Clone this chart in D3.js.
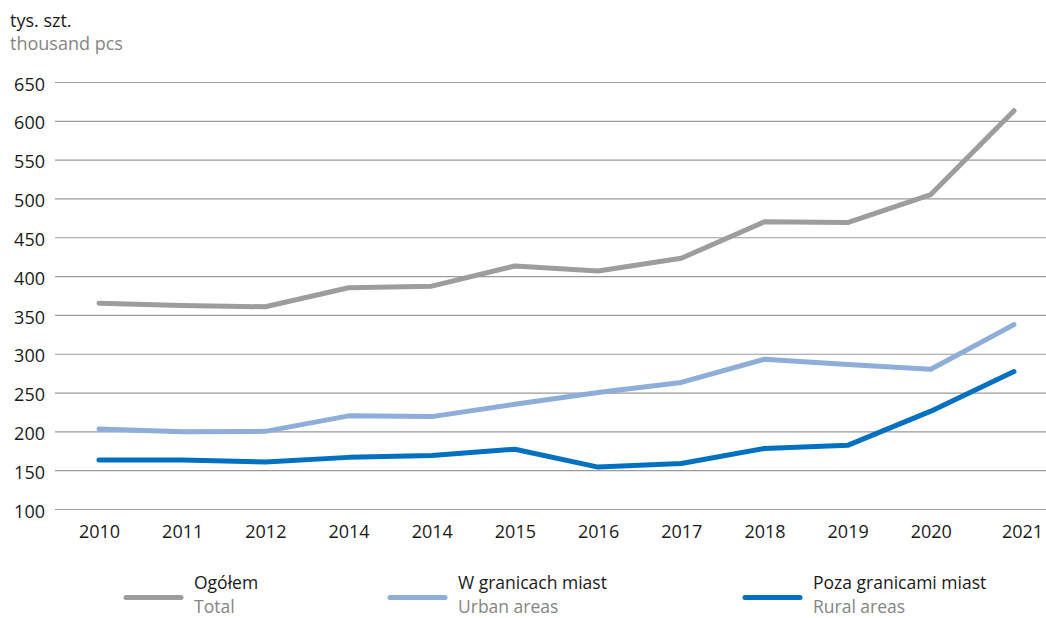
<!DOCTYPE html>
<html>
<head>
<meta charset="utf-8">
<script src="https://cdn.jsdelivr.net/npm/d3@7"></script>
<style>
  html, body { margin: 0; padding: 0; background: #fff; }
  svg { display: block; font-family: "Open Sans", sans-serif; }
</style>
</head>
<body>
<svg id="chart" width="1046" height="618"></svg>
<script>
const years = ["2010", "2011", "2012", "2014", "2014", "2015", "2016", "2017", "2018", "2019", "2020", "2021"];
const totalValues = [365, 362, 360.5, 385, 387, 413, 406.5, 423, 470, 469, 505, 613];
const urbanValues = [203, 199.5, 200, 220, 219, 235, 250, 263, 293, 286, 280, 337.5];
const ruralValues = [163, 163, 160.5, 166.5, 169, 177, 154, 158.5, 178, 182, 226, 277];
const yTicks = [100, 150, 200, 250, 300, 350, 400, 450, 500, 550, 600, 650];
const seriesNames = ["Ogółem", "W granicach miast", "Poza granicami miast"];
const seriesNamesEn = ["Total", "Urban areas", "Rural areas"];
const seriesColors = ["#9d9d9d", "#8eadd8", "#0070c0"];
const unitPl = "tys. szt.";
const unitEn = "thousand pcs";

const svg = d3.select("#chart");
const gridLeft = 55, gridRight = 1046;

const x = d3.scalePoint()
  .domain(d3.range(years.length))
  .range([99, 1014]);

const y = d3.scaleLinear()
  .domain([100, 650])
  .range([509, 82]);

// unit titles
svg.append("text").attr("x", 10).attr("y", 27)
  .attr("font-size", 18).attr("fill", "#1a1a1a").text(unitPl);
svg.append("text").attr("x", 10).attr("y", 50)
  .attr("font-size", 18).attr("fill", "#858585").text(unitEn);

// y axis with gridlines
const yAxis = d3.axisLeft(y)
  .tickValues(yTicks)
  .tickSize(-(gridRight - gridLeft))
  .tickPadding(10)
  .tickFormat(d3.format("d"));

const gy = svg.append("g")
  .attr("transform", `translate(${gridLeft},0)`)
  .call(yAxis);
gy.select(".domain").remove();
gy.selectAll(".tick line").attr("stroke", "#9a9a9a").attr("stroke-width", 1.2);
gy.selectAll(".tick text")
  .attr("font-size", 18).attr("fill", "#1a1a1a")
  .attr("font-family", "Open Sans, sans-serif")
  .attr("dy", "0.45em");

// x axis labels
const xAxis = d3.axisBottom(x)
  .tickSize(0)
  .tickPadding(12)
  .tickFormat(i => years[i]);
const gx = svg.append("g")
  .attr("transform", `translate(0,${y(100)})`)
  .call(xAxis);
gx.select(".domain").remove();
gx.selectAll(".tick text")
  .attr("font-size", 18).attr("fill", "#1a1a1a")
  .attr("font-family", "Open Sans, sans-serif")
  .attr("dy", "0.95em")
  .attr("dx", (d, i) => i === years.length - 1 ? 8 : 0);

// lines
const line = d3.line()
  .x((d, i) => x(i))
  .y(d => y(d));

const allSeries = [totalValues, urbanValues, ruralValues];
svg.append("g").selectAll("path")
  .data(allSeries)
  .join("path")
  .attr("d", d => line(d))
  .attr("fill", "none")
  .attr("stroke", (d, i) => seriesColors[i])
  .attr("stroke-width", 5)
  .attr("stroke-linecap", "round")
  .attr("stroke-linejoin", "round");

// legend
const legendX = [126, 390, 745];
const lg = svg.append("g").selectAll("g")
  .data(seriesNames)
  .join("g")
  .attr("transform", (d, i) => `translate(${legendX[i]},0)`);
lg.append("line")
  .attr("x1", 0).attr("x2", 55)
  .attr("y1", 597.5).attr("y2", 597.5)
  .attr("stroke", (d, i) => seriesColors[i])
  .attr("stroke-width", 5)
  .attr("stroke-linecap", "round");
lg.append("text")
  .attr("x", 68).attr("y", 589)
  .attr("font-size", 17.5).attr("fill", "#1a1a1a")
  .text(d => d);
lg.append("text")
  .attr("x", 68).attr("y", 613)
  .attr("font-size", 17.5).attr("fill", "#858585")
  .text((d, i) => seriesNamesEn[i]);
</script>
</body>
</html>
